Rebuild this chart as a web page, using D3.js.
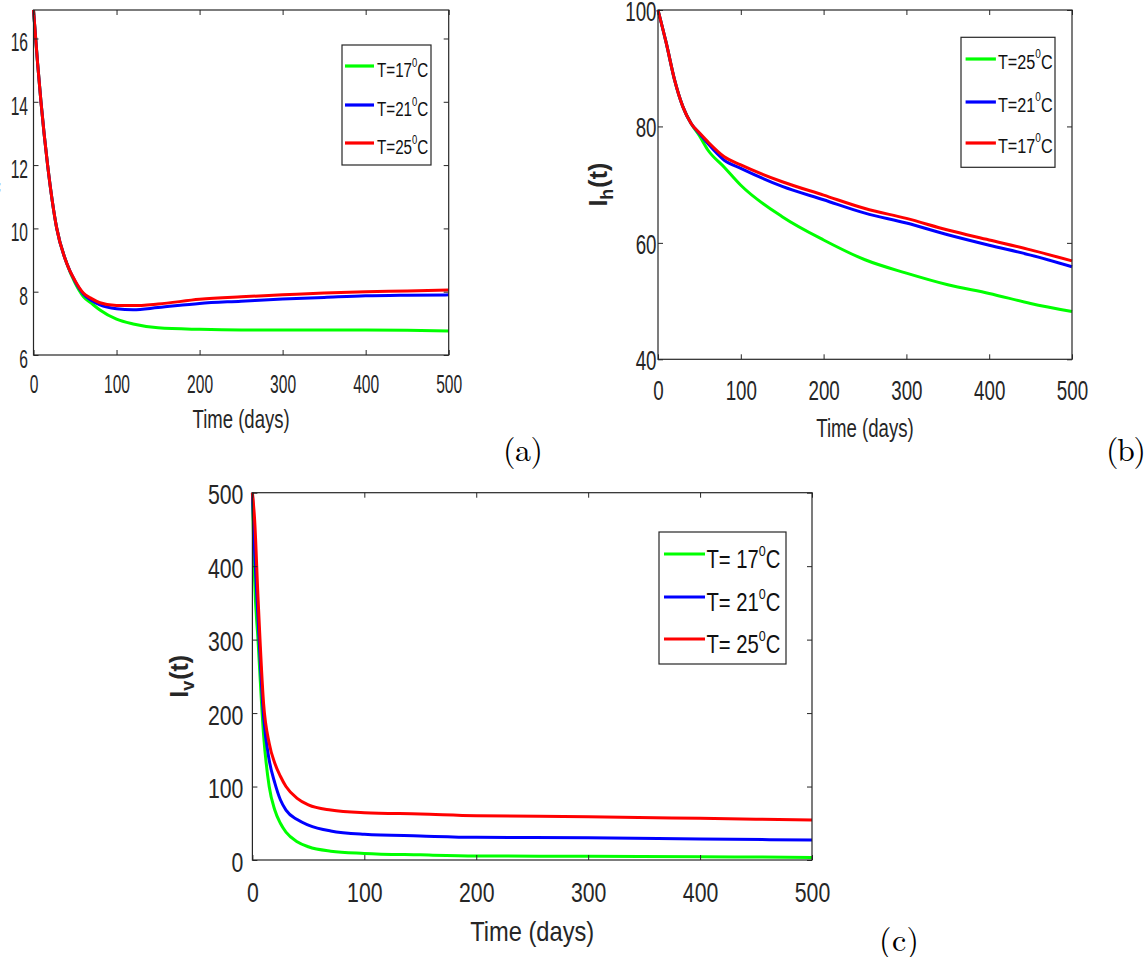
<!DOCTYPE html>
<html><head><meta charset="utf-8">
<script src="https://cdn.jsdelivr.net/npm/d3@7"></script>
<style>body{margin:0;background:#fff}svg{display:block}</style>
</head><body><svg id="chart" width="1146" height="957"></svg>
<script>
// ---------- DATA ----------
const xTicks = [0, 100, 200, 300, 400, 500];

const timeA  = [0, 5, 9, 17, 28, 40, 50, 60, 70, 80, 100, 120, 150, 200, 250, 300, 350, 400, 450, 500];
const aGreen = [16.9, 15.2, 14.0, 12.0, 10.0, 8.9, 8.28, 7.85, 7.63, 7.42, 7.13, 6.98, 6.86, 6.81, 6.79, 6.79, 6.79, 6.79, 6.78, 6.76];
const aBlue  = [16.9, 15.2, 14.0, 12.0, 10.0, 8.9, 8.33, 7.93, 7.72, 7.58, 7.46, 7.43, 7.50, 7.63, 7.70, 7.77, 7.82, 7.87, 7.89, 7.90];
const aRed   = [16.9, 15.2, 14.0, 12.0, 10.0, 8.9, 8.35, 7.96, 7.78, 7.65, 7.56, 7.56, 7.61, 7.76, 7.84, 7.90, 7.96, 8.00, 8.02, 8.05];
const yTicksA = [6, 8, 10, 12, 14, 16];
const legendA = ["T=17", "T=21", "T=25"];

const timeB  = [0, 10, 20, 30, 40, 50, 60, 80, 100, 150, 200, 250, 300, 350, 400, 450, 500];
const bGreen = [100, 94.3, 88, 83.4, 80.5, 78.4, 76.0, 73.0, 69.9, 64.5, 60.5, 57.1, 54.8, 52.8, 51.3, 49.6, 48.2];
const bBlue  = [100, 94.3, 88, 83.4, 80.5, 78.8, 77.1, 74.2, 72.8, 69.7, 67.4, 65.1, 63.4, 61.4, 59.6, 57.9, 55.9];
const bRed   = [100, 94.3, 88, 83.4, 80.5, 78.9, 77.4, 74.8, 73.4, 70.5, 68.2, 65.9, 64.2, 62.2, 60.5, 58.8, 56.9];
const yTicksB = [40, 60, 80, 100];
const legendB = ["T=25", "T=21", "T=17"];

const timeC  = [0, 2, 5, 10, 15, 20, 25, 30, 40, 50, 70, 100, 150, 200, 300, 400, 500];
const cGreen = [500, 380, 300, 170, 100, 68, 50, 38, 25, 18, 12, 9, 7, 5.5, 5, 4.5, 3.5];
const cBlue  = [500, 420, 331, 195, 136, 105, 82, 68, 55, 47.6, 39.5, 35, 32.7, 30.9, 30.4, 28.6, 27.2];
const cRed   = [500, 463, 358, 213, 159, 131.6, 114, 100, 84, 75, 68, 64.4, 62.6, 60.3, 59, 56.7, 54.4];
const yTicksC = [0, 100, 200, 300, 400, 500];
const legendC = ["T= 17", "T= 21", "T= 25"];

const seriesColors = ["#00ff00", "#0000ff", "#ff0000"];
const xLabel = "Time (days)";
const panelTags = ["(a)", "(b)", "(c)"];

// ---------- LAYOUT ----------
const FONT = "'Liberation Sans', Arial, Helvetica, sans-serif";
const INK = "#262626";
const svg = d3.select("#chart");
svg.append("rect").attr("width", 1146).attr("height", 957).attr("fill", "#fff");

const panels = [
  { box: [33.5, 10, 448.7, 355], yDom: [6, 16.9], yTicks: yTicksA, t: timeA, series: [aGreen, aBlue, aRed],
    legend: legendA, tick: { size: 26, sx: 0.6, xOff: 38, yPad: 5.5, yOff: 12.5 },
    xl: { size: 26.5, len: 97, y: 428 },
    lg: { box: [342, 45, 431, 165], ys: [66, 105, 143], lx: [345, 374], tx: 377, off: 10.5, size: 19.5, sx: 0.78 },
    ylab: { x: -6, main: "S", sub: "h" },
    tag: { x: 503, y: 461 } },
  { box: [658, 10, 1072, 359.3], yDom: [40, 100], yTicks: yTicksB, t: timeB, series: [bGreen, bBlue, bRed],
    legend: legendB, tick: { size: 28, sx: 0.67, xOff: 40.7, yPad: 1.5, yOff: 10.5 },
    xl: { size: 26.5, len: 97.5, y: 437 },
    lg: { box: [961, 37.3, 1055, 167.3], ys: [59, 102, 143], lx: [965.6, 995.9], tx: 998, off: 9.5, size: 21, sx: 0.77 },
    ylab: { x: 607, main: "I", sub: "h" },
    tag: { x: 1106, y: 461 } },
  { box: [252.4, 492.7, 812, 860], yDom: [0, 500], yTicks: yTicksC, t: timeC, series: [cGreen, cBlue, cRed],
    legend: legendC, tick: { size: 28, sx: 0.76, xOff: 42, yPad: 9, yOff: 11 },
    xl: { size: 28, len: 124, y: 941 },
    lg: { box: [659, 532, 786, 664], ys: [554, 597, 639], lx: [664, 705], tx: 706.5, off: 14, size: 25, sx: 0.81 },
    ylab: { x: 188, main: "I", sub: "v" },
    tag: { x: 879, y: 951 } }
];

panels.forEach((p, pi) => {
  const [x0, y0, x1, y1] = p.box;
  const xs = d3.scaleLinear().domain([0, 500]).range([x0, x1]);
  const ys = d3.scaleLinear().domain(p.yDom).range([y1, y0]);
  const g = svg.append("g");

  // curves
  const line = d3.line().x((d, i) => xs(p.t[i])).y(d => ys(d)).curve(d3.curveMonotoneX);
  p.series.forEach((s, si) => {
    g.append("path").datum(s).attr("d", line).attr("fill", "none")
      .attr("stroke", seriesColors[si]).attr("stroke-width", 3).attr("stroke-linejoin", "round");
  });

  // axes (inward ticks on all sides)
  const styleAxis = a => {
    a.select(".domain").remove();
    a.selectAll("line").attr("stroke", INK).attr("stroke-width", 1);
    a.attr("font-family", FONT).attr("font-size", p.tick.size);
  };
  const bottom = g.append("g").attr("transform", `translate(0,${y1})`)
    .call(d3.axisBottom(xs).tickValues(xTicks).tickSizeInner(-5).tickSizeOuter(0).tickFormat(d3.format("d")));
  styleAxis(bottom);
  bottom.selectAll("text").attr("y", p.tick.xOff).attr("dy", null).attr("fill", INK)
    .attr("transform", `scale(${p.tick.sx},1)`);

  const left = g.append("g").attr("transform", `translate(${x0},0)`)
    .call(d3.axisLeft(ys).tickValues(p.yTicks).tickSizeInner(-5).tickSizeOuter(0).tickFormat(d3.format("d")));
  styleAxis(left);
  left.selectAll("text").attr("x", -p.tick.yPad / p.tick.sx).attr("y", p.tick.yOff).attr("dy", null)
    .attr("fill", INK).attr("transform", `scale(${p.tick.sx},1)`);

  const top = g.append("g").attr("transform", `translate(0,${y0})`)
    .call(d3.axisTop(xs).tickValues(xTicks).tickSizeInner(-5).tickSizeOuter(0).tickFormat(() => ""));
  styleAxis(top);
  const right = g.append("g").attr("transform", `translate(${x1},0)`)
    .call(d3.axisRight(ys).tickValues(p.yTicks).tickSizeInner(-5).tickSizeOuter(0).tickFormat(() => ""));
  styleAxis(right);

  g.append("rect").attr("x", x0).attr("y", y0).attr("width", x1 - x0).attr("height", y1 - y0)
    .attr("fill", "none").attr("stroke", INK).attr("stroke-width", 1.2);

  // x label
  g.append("text").attr("x", (x0 + x1) / 2 - p.xl.len / 2).attr("y", p.xl.y)
    .attr("font-family", FONT).attr("font-size", p.xl.size).attr("fill", INK)
    .attr("textLength", p.xl.len).attr("lengthAdjust", "spacingAndGlyphs").text(xLabel);

  // y label (rotated, with subscript)
  const yl = g.append("text")
    .attr("transform", `translate(${p.ylab.x},${(y0 + y1) / 2}) rotate(-90)`)
    .attr("text-anchor", "middle").attr("font-family", FONT).attr("font-weight", "bold")
    .attr("font-size", 25).attr("fill", INK);
  yl.append("tspan").text(p.ylab.main);
  yl.append("tspan").attr("dy", 6).attr("font-size", 18).text(p.ylab.sub);
  yl.append("tspan").attr("dy", -6).attr("dx", 1).text("(t)");

  // legend
  const L = p.lg;
  g.append("rect").attr("x", L.box[0]).attr("y", L.box[1]).attr("width", L.box[2] - L.box[0])
    .attr("height", L.box[3] - L.box[1]).attr("fill", "#fff").attr("stroke", INK).attr("stroke-width", 1.2);
  p.legend.forEach((lab, i) => {
    const yy = L.ys[i];
    g.append("line").attr("x1", L.lx[0]).attr("x2", L.lx[1]).attr("y1", yy).attr("y2", yy)
      .attr("stroke", seriesColors[i]).attr("stroke-width", 3.2);
    const tx = g.append("text").attr("transform", `translate(${L.tx},${yy + L.off}) scale(${L.sx},1)`)
      .attr("font-family", FONT).attr("font-size", L.size).attr("fill", "#111");
    tx.append("tspan").text(lab);
    tx.append("tspan").attr("font-size", L.size * 0.62).attr("dy", -L.size * 0.5).text("0");
    tx.append("tspan").attr("dy", L.size * 0.5).text("C");
  });

  // panel tag
  g.append("text").attr("x", p.tag.x).attr("y", p.tag.y)
    .attr("font-family", "'Latin Modern Roman','CMU Serif','Liberation Serif','DejaVu Serif',serif")
    .attr("font-size", 32).attr("fill", "#000")
    .attr("textLength", 40).attr("lengthAdjust", "spacing").text(panelTags[pi]);
});
</script></body></html>
